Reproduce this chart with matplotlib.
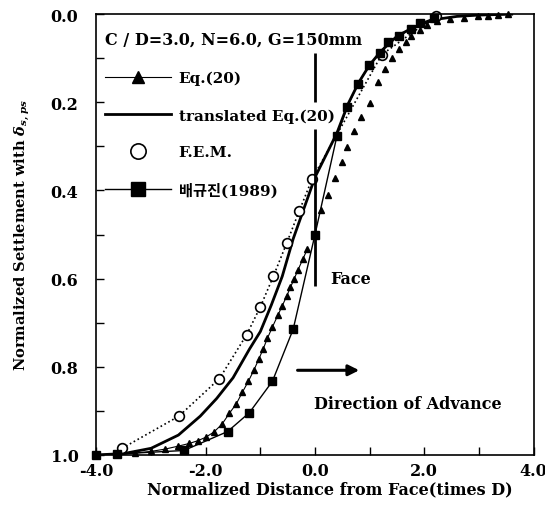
import matplotlib
matplotlib.use('Agg')
import matplotlib.pyplot as plt
from matplotlib.lines import Line2D
from matplotlib.ticker import MultipleLocator, FormatStrFormatter

plt.rcParams['font.family'] = ['DejaVu Serif', 'Noto Sans CJK KR']
plt.rcParams['font.weight'] = 'bold'
plt.rcParams['axes.labelweight'] = 'bold'
plt.rcParams['mathtext.fontset'] = 'dejavuserif'
plt.rcParams['axes.unicode_minus'] = True

# Eq.(20), behind the face (connected) and ahead of the face (points only)
eq20_x_behind = [-4.0, -3.6, -3.3, -3.0, -2.75, -2.5, -2.3, -2.15, -2.0, -1.85, -1.7, -1.57,
                 -1.44, -1.33, -1.22, -1.12, -1.03, -0.95, -0.87, -0.78, -0.68, -0.6, -0.52,
                 -0.45, -0.38, -0.31, -0.22, -0.14]
eq20_y_behind = [1.0, 0.998, 0.996, 0.992, 0.987, 0.98, 0.974, 0.968, 0.96, 0.948, 0.93, 0.906,
                 0.884, 0.858, 0.833, 0.808, 0.783, 0.76, 0.735, 0.71, 0.683, 0.662, 0.64,
                 0.62, 0.60, 0.58, 0.555, 0.533]
eq20_x_ahead = [0.11, 0.24, 0.36, 0.49, 0.59, 0.71, 0.84, 1.0, 1.16, 1.29, 1.41, 1.54, 1.67,
                1.76, 1.92, 2.05, 2.24, 2.47, 2.73, 2.98, 3.17, 3.35, 3.54]
eq20_y_ahead = [0.445, 0.41, 0.372, 0.336, 0.301, 0.266, 0.234, 0.202, 0.155, 0.124, 0.100,
                0.080, 0.064, 0.049, 0.037, 0.025, 0.016, 0.011, 0.008, 0.005, 0.003, 0.002, 0.0]

# translated Eq.(20)
trans_x = [-4.0, -3.5, -3.0, -2.5, -2.1, -1.8, -1.5, -1.2, -1.0, -0.8, -0.6, -0.4, -0.2, 0.0,
           0.2, 0.4, 0.6, 0.8, 1.0, 1.2, 1.5, 1.8, 2.2, 2.6, 3.0, 3.6]
trans_y = [1.0, 0.997, 0.985, 0.955, 0.912, 0.872, 0.825, 0.76, 0.72, 0.66, 0.595, 0.51, 0.44,
           0.37, 0.32, 0.27, 0.205, 0.155, 0.115, 0.085, 0.05, 0.03, 0.012, 0.005, 0.002, 0.0]

# F.E.M.
fem_x = [-3.53, -2.49, -1.75, -1.25, -1.0, -0.76, -0.52, -0.29, -0.05, 1.22, 2.21]
fem_y = [0.985, 0.912, 0.827, 0.727, 0.664, 0.594, 0.52, 0.447, 0.373, 0.092, 0.004]

# field data (1989)
bae_x = [-4.0, -3.62, -2.4, -1.6, -1.2, -0.78, -0.4, 0.0, 0.4, 0.59, 0.78, 0.99, 1.19, 1.34,
         1.54, 1.76, 1.92, 2.18]
bae_y = [1.0, 0.998, 0.99, 0.947, 0.904, 0.833, 0.715, 0.5, 0.277, 0.21, 0.159, 0.116, 0.088,
         0.064, 0.049, 0.033, 0.021, 0.009]

fig = plt.figure(figsize=(5.45, 5.06), dpi=100)
ax = fig.add_axes([0.177, 0.099, 0.802, 0.871])

ax.plot(eq20_x_behind, eq20_y_behind, '-^', color='k', lw=0.8, ms=5, clip_on=False)
ax.plot(eq20_x_ahead, eq20_y_ahead, '^', color='k', ms=5, clip_on=False)
ax.plot(trans_x, trans_y, '-', color='k', lw=2.0)
ax.plot(fem_x, fem_y, ':o', color='k', lw=1.2, ms=7, mfc='white', mew=1.2, clip_on=False)
ax.plot(bae_x, bae_y, '-s', color='k', lw=1.0, ms=6, clip_on=False)

ax.set_xlim(-4.0, 4.0)
ax.set_ylim(1.0, 0.0)
ax.xaxis.set_major_locator(MultipleLocator(2.0))
ax.xaxis.set_minor_locator(MultipleLocator(1.0))
ax.yaxis.set_major_locator(MultipleLocator(0.2))
ax.yaxis.set_minor_locator(MultipleLocator(0.1))
ax.xaxis.set_major_formatter(FormatStrFormatter('%.1f'))
ax.yaxis.set_major_formatter(FormatStrFormatter('%.1f'))
ax.tick_params(which='both', direction='in', length=6, width=1.0, labelsize=11.5)
ax.tick_params(axis='x', pad=5)
ax.tick_params(axis='y', pad=13)
for s in ax.spines.values():
    s.set_linewidth(1.2)

ax.set_xlabel('Normalized Distance from Face(times D)', fontsize=11.5)
ax.xaxis.set_label_coords(0.535, -0.058)
ax.set_ylabel(r'Normalized Settlement with $\delta_{s,ps}$', fontsize=10.5, labelpad=13)

# tunnel face marker (broken where the legend text passes)
ax.vlines(0.0, 0.088, 0.20, color='k', lw=2.0)
ax.vlines(0.0, 0.26, 0.616, color='k', lw=2.0)
ax.text(0.27, 0.6, 'Face', fontsize=11.5, va='center', ha='left')

ax.annotate('', xy=(0.86, 0.808), xytext=(-0.37, 0.808),
            arrowprops=dict(arrowstyle='-|>', lw=2.2, color='k', mutation_scale=16))
ax.text(-0.02, 0.884, 'Direction of Advance', fontsize=11.5, va='center', ha='left')

handles = [
    Line2D([], [], color='k', lw=0.8, marker='^', ms=8),
    Line2D([], [], color='k', lw=2.0),
    Line2D([], [], color='k', lw=0, marker='o', ms=11, mfc='white', mew=1.2),
    Line2D([], [], color='k', lw=1.0, marker='s', ms=10),
]
labels = ['Eq.(20)', 'translated Eq.(20)', 'F.E.M.', '배규진(1989)']
leg = ax.legend(handles, labels, loc='upper left', bbox_to_anchor=(0.02, 0.962),
                frameon=False, borderaxespad=0, borderpad=0, handlelength=4.3,
                handletextpad=0.5, labelspacing=1.5, fontsize=11,
                title='C / D=3.0, N=6.0, G=150mm', title_fontsize=11.5, alignment='left')
leg.get_title().set_fontweight('bold')

fig.savefig('out.png', dpi=100)
